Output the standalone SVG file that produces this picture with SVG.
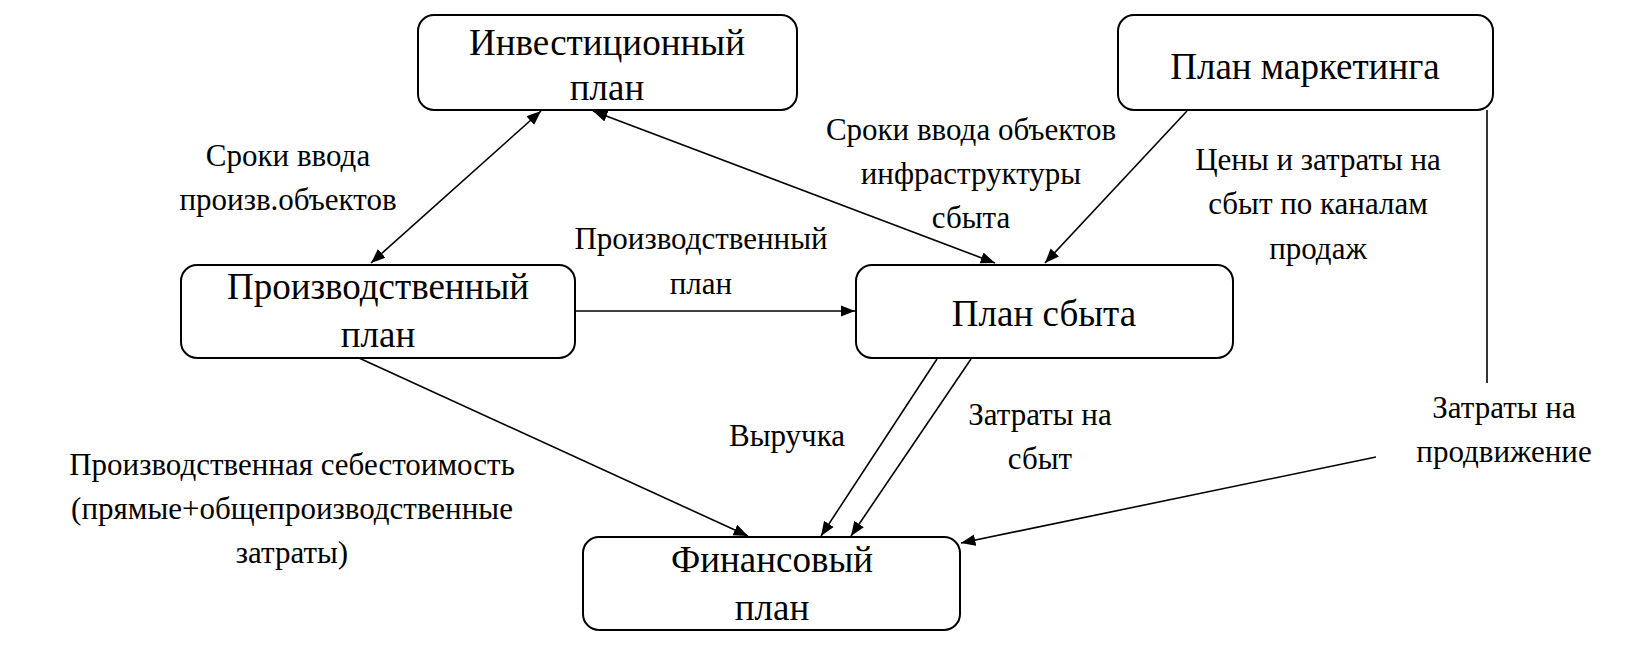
<svg xmlns="http://www.w3.org/2000/svg" width="1643" height="658" viewBox="0 0 1643 658" font-family="'Liberation Serif', 'Times New Roman', 'DejaVu Serif', serif">
<style>
.b{fill:#fff;stroke:#000;stroke-width:2}
.t{font-family:'Liberation Serif','Times New Roman','DejaVu Serif',serif;font-size:37px;text-anchor:middle}
.l{font-family:'Liberation Serif','Times New Roman','DejaVu Serif',serif;font-size:31px;text-anchor:middle}
.c line{stroke:#000;stroke-width:1.6;fill:none}
</style>
<defs><marker id="a" viewBox="0 0 10 10" refX="10" refY="5" markerWidth="9" markerHeight="9" orient="auto-start-reverse"><path d="M0,1 L10,5 L0,9 z" fill="#000"/></marker></defs>
<rect width="1643" height="658" fill="#fff"/>
<g id="invest"><rect class="b" x="418" y="15" width="379" height="95" rx="16"/><text class="t" x="607" y="55">Инвестиционный</text><text class="t" x="607" y="100">план</text></g>
<g id="marketing"><rect class="b" x="1118" y="15" width="375" height="95" rx="16"/><text class="t" x="1305" y="79">План маркетинга</text></g>
<g id="prod"><rect class="b" x="181" y="265" width="394" height="93" rx="16"/><text class="t" x="378" y="299">Производственный</text><text class="t" x="378" y="347">план</text></g>
<g id="sales"><rect class="b" x="856" y="265" width="377" height="93" rx="16"/><text class="t" x="1044" y="326">План сбыта</text></g>
<g id="fin"><rect class="b" x="583" y="537" width="377" height="93" rx="16"/><text class="t" x="772" y="572">Финансовый</text><text class="t" x="772" y="620">план</text></g>
<g class="c">
<line x1="541" y1="111" x2="371" y2="263" marker-start="url(#a)" marker-end="url(#a)"/>
<line x1="593" y1="111" x2="995" y2="263" marker-start="url(#a)" marker-end="url(#a)"/>
<line x1="1187" y1="111" x2="1045" y2="263" marker-end="url(#a)"/>
<line x1="575" y1="311" x2="855" y2="311" marker-end="url(#a)"/>
<line x1="359" y1="358" x2="748" y2="536" marker-end="url(#a)"/>
<line x1="937" y1="359" x2="821" y2="536" marker-end="url(#a)"/>
<line x1="971" y1="359" x2="851" y2="536" marker-end="url(#a)"/>
<line x1="1487" y1="110" x2="1487" y2="383"/>
<line x1="1376" y1="457" x2="961" y2="543" marker-end="url(#a)"/>
</g>
<g id="labels">
<text class="l" x="288" y="166">Сроки ввода</text><text class="l" x="288" y="210">произв.объектов</text>
<text class="l" x="971" y="140">Сроки ввода объектов</text><text class="l" x="971" y="184">инфраструктуры</text><text class="l" x="971" y="228">сбыта</text>
<text class="l" x="1318" y="170">Цены и затраты на</text><text class="l" x="1318" y="214">сбыт по каналам</text><text class="l" x="1318" y="259">продаж</text>
<text class="l" x="701" y="249">Производственный</text><text class="l" x="701" y="294">план</text>
<text class="l" x="787" y="446">Выручка</text>
<text class="l" x="1040" y="425">Затраты на</text><text class="l" x="1040" y="469">сбыт</text>
<text class="l" x="1504" y="418">Затраты на</text><text class="l" x="1504" y="462">продвижение</text>
<text class="l" x="292" y="475">Производственная себестоимость</text><text class="l" x="292" y="519">(прямые+общепроизводственные</text><text class="l" x="292" y="563">затраты)</text>
</g>
</svg>
